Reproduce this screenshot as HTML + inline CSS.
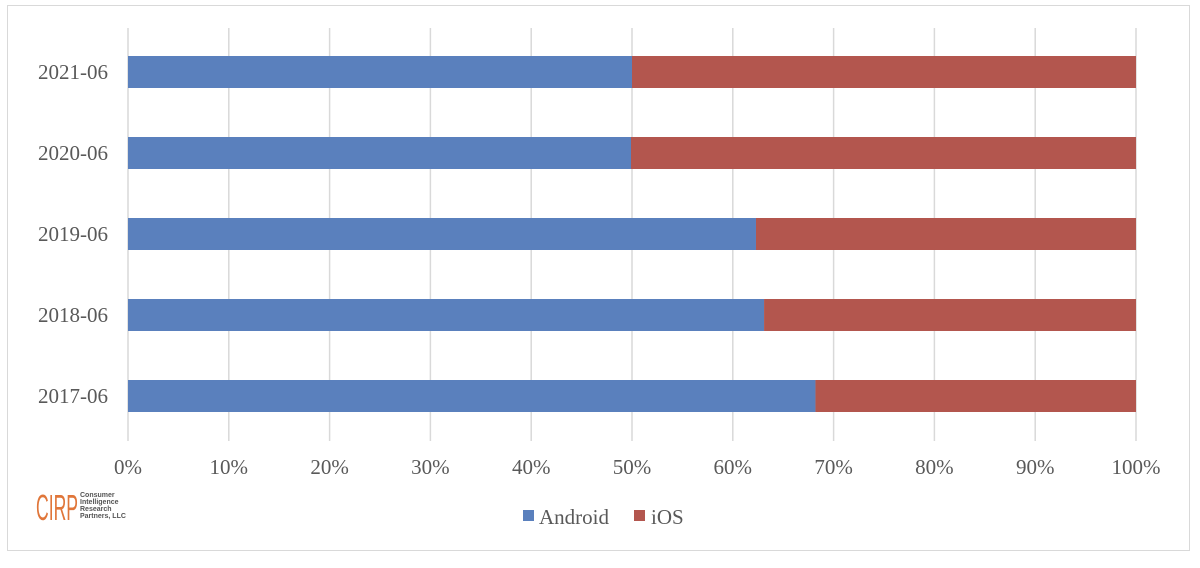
<!DOCTYPE html>
<html><head><meta charset="utf-8"><style>
body{margin:0;background:#fff;width:1200px;height:563px;overflow:hidden;font-family:"Liberation Serif",serif;}
svg text{font-family:"Liberation Serif",serif;}
</style></head><body>
<svg width="1200" height="563">
<rect x="7.5" y="5.5" width="1182" height="545" fill="#fff" stroke="#d9d9d9"/>
<g id="grid"></g><g id="bars"></g><g id="labels"></g>
<g>
<text x="36" y="520" style="font-family:'Liberation Sans',sans-serif" font-size="36" fill="#e0763a" textLength="42" lengthAdjust="spacingAndGlyphs">CIRP</text>
<text x="80" y="497" style="font-family:'Liberation Sans',sans-serif;font-weight:bold" font-size="7" fill="#555">Consumer</text>
<text x="80" y="504" style="font-family:'Liberation Sans',sans-serif;font-weight:bold" font-size="7" fill="#555">Intelligence</text>
<text x="80" y="511" style="font-family:'Liberation Sans',sans-serif;font-weight:bold" font-size="7" fill="#555">Research</text>
<text x="80" y="518" style="font-family:'Liberation Sans',sans-serif;font-weight:bold" font-size="7" fill="#555">Partners, LLC</text>
</g>
<g>
<rect x="523" y="510" width="11" height="11" fill="#5a80bd"/>
<text x="539" y="524" font-size="21" fill="#595959">Android</text>
<rect x="634" y="510" width="11" height="11" fill="#b3564e"/>
<text x="651" y="524" font-size="21" fill="#595959">iOS</text>
</g>
</svg>
<script>
const categories=["2021-06","2020-06","2019-06","2018-06","2017-06"];
const android=[50.0,49.9,62.3,63.1,68.2];
const ios=[50.0,50.1,37.7,36.9,31.8];
const ticks=[0,10,20,30,40,50,60,70,80,90,100];
const ns="http://www.w3.org/2000/svg";
const x=v=>128+v*10.08;
const y0=56,step=81,bh=32;
function mk(t,a,p){const e=document.createElementNS(ns,t);for(const k in a)e.setAttribute(k,a[k]);p.appendChild(e);return e;}
const g=document.getElementById('grid'),b=document.getElementById('bars'),l=document.getElementById('labels');
ticks.forEach(t=>{
 const ln=mk('line',{x1:x(t),x2:x(t),y1:28,y2:441,stroke:'#d9d9d9','stroke-width':1.5},g);
 
 
 const tx=mk('text',{x:x(t),y:474,'text-anchor':'middle','font-size':21,fill:'#595959'},l);
 tx.textContent=t+'%';
 
 
});
categories.forEach((c,i)=>{
 const yy=y0+i*step;
 const a=mk('rect',{x:x(0),y:yy,width:x(android[i])-x(0),height:bh,fill:'#5a80bd'},b);
 
 
 const s=mk('rect',{x:x(android[i]),y:yy,width:x(android[i]+ios[i])-x(android[i]),height:bh,fill:'#b3564e'},b);
 
 
 const tx=mk('text',{x:108,y:yy+bh/2+7,'text-anchor':'end','font-size':21,fill:'#595959'},l);
 tx.textContent=c;
 
 
});
</script>
</body></html>
